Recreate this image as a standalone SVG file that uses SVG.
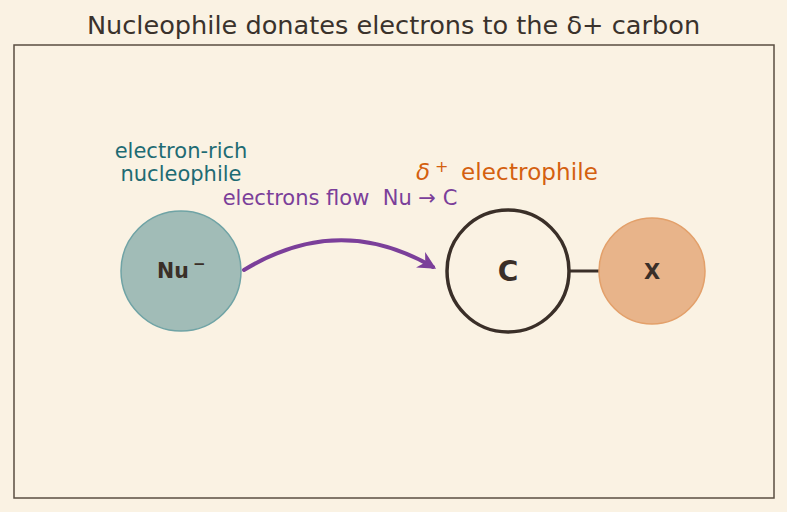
<svg xmlns="http://www.w3.org/2000/svg" width="787" height="512" viewBox="0 0 787 512">
<defs>
<style>
text{font-family:"DejaVu Sans","Liberation Sans",sans-serif}
.title{font-size:25.6px;fill:#3a322c}
.lbl{font-size:21px}
.bold{font-weight:bold;fill:#3a2f28}
</style>
<marker id="ah" viewBox="0 0 10 10" refX="8" refY="5" markerWidth="4.5" markerHeight="4.5" orient="auto" markerUnits="strokeWidth">
<path d="M0,0 L10,5 L0,10 L3,5 Z" fill="#7b3f9a"/>
</marker>
</defs>
<rect width="787" height="512" fill="#faf2e3"/>
<text class="title" x="393.5" y="34" text-anchor="middle">Nucleophile donates electrons to the δ+ carbon</text>
<rect x="14" y="45" width="760" height="453" fill="none" stroke="#5a4e42" stroke-width="1.5"/>
<g id="connectors">
<path d="M244,270 Q339,212 433,267" fill="none" stroke="#7b3f9a" stroke-width="4" stroke-linecap="round" marker-end="url(#ah)"/>
<line x1="569" y1="271" x2="600" y2="271" stroke="#3a2f28" stroke-width="3"/>
</g>
<g id="nu">
<circle cx="181" cy="271" r="60" fill="#a1bcb7" stroke="#6fa3a5" stroke-width="1.5"/>
<text class="bold" x="157" y="278" font-size="20.5">Nu</text>
<text class="bold" x="193" y="269" font-size="15">−</text>
<text class="lbl" x="181" y="158" text-anchor="middle" fill="#1e6b73">electron-rich</text>
<text class="lbl" x="181" y="181" text-anchor="middle" fill="#1e6b73">nucleophile</text>
</g>
<g id="flow-label">
<text class="lbl" x="340" y="205" text-anchor="middle" fill="#7b3f9a" xml:space="preserve">electrons flow  Nu → C</text>
</g>
<g id="c">
<circle cx="508" cy="271" r="61" fill="none" stroke="#3a2f28" stroke-width="3.5"/>
<text class="bold" x="508" y="281" text-anchor="middle" font-size="28">C</text>
<text fill="#d4600f" font-size="23" y="180"><tspan x="416" font-style="italic">δ</tspan><tspan x="435" y="172" font-size="16">+</tspan><tspan x="461" y="180" textLength="137">electrophile</tspan></text>
</g>
<g id="x">
<circle cx="652" cy="271" r="53" fill="#e8b48a" stroke="#e3a06a" stroke-width="1.5"/>
<text class="bold" x="652" y="279" text-anchor="middle" font-size="21">X</text>
</g>
</svg>
